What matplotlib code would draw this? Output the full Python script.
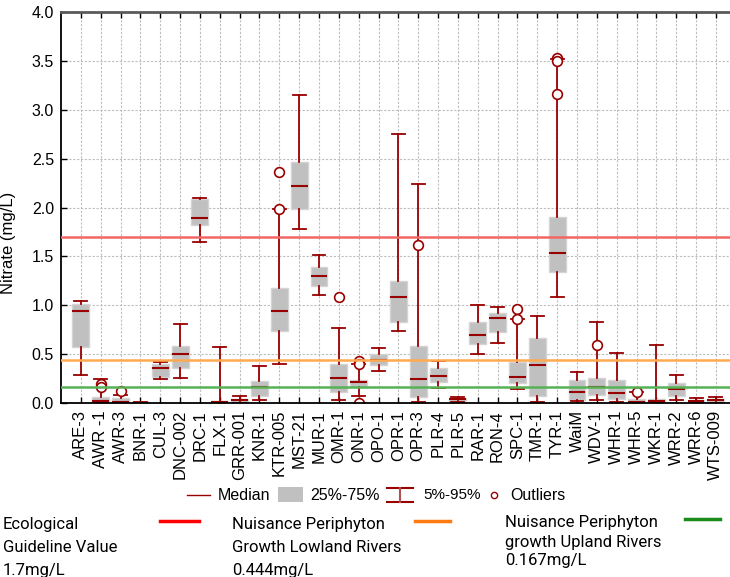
import matplotlib
matplotlib.use("Agg")
import matplotlib.pyplot as plt
from matplotlib.patches import Rectangle

# site names along the x axis
sites = ["ARE-3", "AWR -1", "AWR-3", "BNR-1", "CUL-3", "DNC-002", "DRC-1", "FLX-1",
         "GRR-001", "KNR-1", "KTR-005", "MST-21", "MUR-1", "OMR-1", "ONR-1", "OPO-1",
         "OPR-1", "OPR-3", "PLR-4", "PLR-5", "RAR-1", "RON-4", "SPC-1", "TMR-1",
         "TYR-1", "WaiM", "WDV-1", "WHR-1", "WHR-5", "WKR-1", "WRR-2", "WRR-6", "WTS-009"]

# nitrate (mg/L) summary stats
p5 = [0.29, 0.0, 0.0, 0.0, 0.245, 0.253, 1.645, 0.0, 0.0, 0.03, 0.40, 1.78, 1.10,
      0.035, 0.07, 0.33, 0.735, 0.015, 0.155, 0.01, 0.505, 0.61, 0.145, 0.01, 1.08,
      0.02, 0.035, 0.015, 0.0, 0.0, 0.03, 0.0, 0.0]
q1 = [0.57, 0.0, 0.0, 0.0, 0.27, 0.355, 1.82, 0.0, 0.01, 0.075, 0.74, 1.98, 1.20,
      0.11, 0.165, 0.385, 0.83, 0.06, 0.21, 0.02, 0.60, 0.725, 0.20, 0.07, 1.34,
      0.035, 0.08, 0.045, 0.0, 0.0, 0.075, 0.005, 0.01]
med = [0.94, 0.02, 0.015, 0.005, 0.36, 0.50, 1.895, 0.01, 0.03, 0.16, 0.945, 2.215, 1.30,
       0.255, 0.21, 0.44, 1.08, 0.25, 0.275, 0.04, 0.70, 0.87, 0.265, 0.385, 1.53,
       0.115, 0.165, 0.10, 0.015, 0.02, 0.145, 0.02, 0.03]
q3 = [1.01, 0.065, 0.05, 0.01, 0.395, 0.58, 2.085, 0.02, 0.04, 0.23, 1.175, 2.465, 1.395,
      0.40, 0.24, 0.50, 1.25, 0.585, 0.36, 0.055, 0.83, 0.925, 0.415, 0.665, 1.905,
      0.235, 0.26, 0.235, 0.045, 0.045, 0.20, 0.035, 0.045]
p95 = [1.04, 0.25, 0.08, 0.015, 0.415, 0.805, 2.10, 0.575, 0.075, 0.375, 1.98, 3.15, 1.515,
       0.77, 0.40, 0.565, 2.755, 2.24, 0.425, 0.065, 1.005, 0.985, 0.86, 0.895, 3.52,
       0.315, 0.825, 0.51, 0.11, 0.595, 0.29, 0.055, 0.06]
outliers = {"AWR -1": [0.19, 0.16], "AWR-3": [0.125], "KTR-005": [2.365, 1.98],
            "OMR-1": [1.08], "ONR-1": [0.43, 0.40, 0.005], "OPR-3": [1.62],
            "SPC-1": [0.96, 0.86], "TYR-1": [3.53, 3.50, 3.16], "WDV-1": [0.59],
            "WHR-5": [0.11]}

# guideline values
guide_vals = [1.7, 0.444, 0.167]
guide_cols = ["#f26666", "#ffaa50", "#55b255"]
guide_key_cols = ["#ff0000", "#ff7a10", "#1a8c1a"]
guide_text = [["Ecological", "Guideline Value", "1.7mg/L"],
              ["Nuisance Periphyton", "Growth Lowland Rivers", "0.444mg/L"],
              ["Nuisance Periphyton", "growth Upland Rivers", "0.167mg/L"]]

dark = "#990000"
W, H = 730, 577

fig = plt.figure(figsize=(W / 100, H / 100), dpi=100)
ax = fig.add_axes([61 / W, 1 - 403 / H, 669 / W, 391 / H])

stats = []
for i, s in enumerate(sites):
    stats.append({"med": med[i], "q1": q1[i], "q3": q3[i], "whislo": p5[i],
                  "whishi": p95[i], "fliers": outliers.get(s, [])})

pos = list(range(len(sites)))
ax.bxp(stats, positions=pos, widths=0.85, capwidths=0.65, patch_artist=True,
       boxprops=dict(facecolor="#c0c0c0", edgecolor="#d4d4d4", linewidth=1),
       whiskerprops=dict(color=dark, linewidth=1.3),
       capprops=dict(color=dark, linewidth=1.3),
       medianprops=dict(color=dark, linewidth=1.5),
       flierprops=dict(marker="o", markerfacecolor="white", markeredgecolor=dark,
                       markersize=7, markeredgewidth=1.2))

for v, c in zip(guide_vals, guide_cols):
    ax.axhline(v, color=c, linewidth=1.8, zorder=5)

ax.set_xlim(-1, len(sites) - 0.29)
ax.set_ylim(0, 4.0)
ax.set_yticks([i * 0.5 for i in range(9)])
ax.set_yticklabels([f"{i * 0.5:.1f}" for i in range(9)], fontsize=11.5, family="Liberation Sans")
ax.set_xticks(pos)
ax.set_xticklabels(sites, rotation=90, fontsize=12, family="Liberation Sans")
ax.tick_params(axis="both", direction="in", length=4, width=1, pad=5)
ax.tick_params(axis="x", top=True)
ax.set_axisbelow(True)
ax.grid(True, color="#bdbdbd", linestyle=(0, (2, 1.5)), linewidth=0.8)
ax.spines["right"].set_visible(False)
ax.spines["top"].set_color("#5a5a5a")
ax.spines["top"].set_linewidth(2)
ax.spines["left"].set_linewidth(1.3)
ax.spines["bottom"].set_linewidth(1.3)
ax.set_ylabel("Nitrate (mg/L)", fontsize=12, family="Liberation Sans")
ax.yaxis.set_label_coords(-0.067, 0.41)

# legends drawn on an overlay in pixel units
ov = fig.add_axes([0, 0, 1, 1])
ov.set_xlim(0, W)
ov.set_ylim(H, 0)
ov.axis("off")

ly = 495
ov.plot([187, 210], [ly, ly], color=dark, linewidth=1)
ov.text(218, ly, "Median", va="center", fontsize=11.5, family="Liberation Sans")
ov.add_patch(Rectangle((278, 487), 25, 15, facecolor="#c0c0c0", edgecolor="none"))
ov.text(310, ly, "25%-75%", va="center", fontsize=11.5, family="Liberation Sans")
ov.plot([387, 413], [487.5, 487.5], color=dark, linewidth=1.5)
ov.plot([387, 413], [502, 502], color=dark, linewidth=1.5)
ov.plot([400, 400], [487.5, 502], color="#b05050", linewidth=1.5)
ov.text(423, ly, "5%-95%", va="center", fontsize=11, family="Liberation Sans")
ov.plot([494], [ly], marker="o", markersize=4.5, markerfacecolor="white",
        markeredgecolor=dark, markeredgewidth=1)
ov.text(510, ly, "Outliers", va="center", fontsize=11.5, family="Liberation Sans")

cond = ["Roboto", "DejaVu Sans"]
blocks_x = [3, 232, 505]
key_x = [(160, 199), (415, 450), (685, 720)]
line_y = [[524, 548, 571], [524, 548, 571], [522, 542, 561]]
key_y = [521, 521, 519]
for b in range(3):
    for t, yy in zip(guide_text[b], line_y[b]):
        ov.text(blocks_x[b], yy, t, va="center", fontsize=12, family=cond)
    ov.plot(key_x[b], [key_y[b], key_y[b]], color=guide_key_cols[b], linewidth=2.5)

fig.savefig("out.png", dpi=100)
